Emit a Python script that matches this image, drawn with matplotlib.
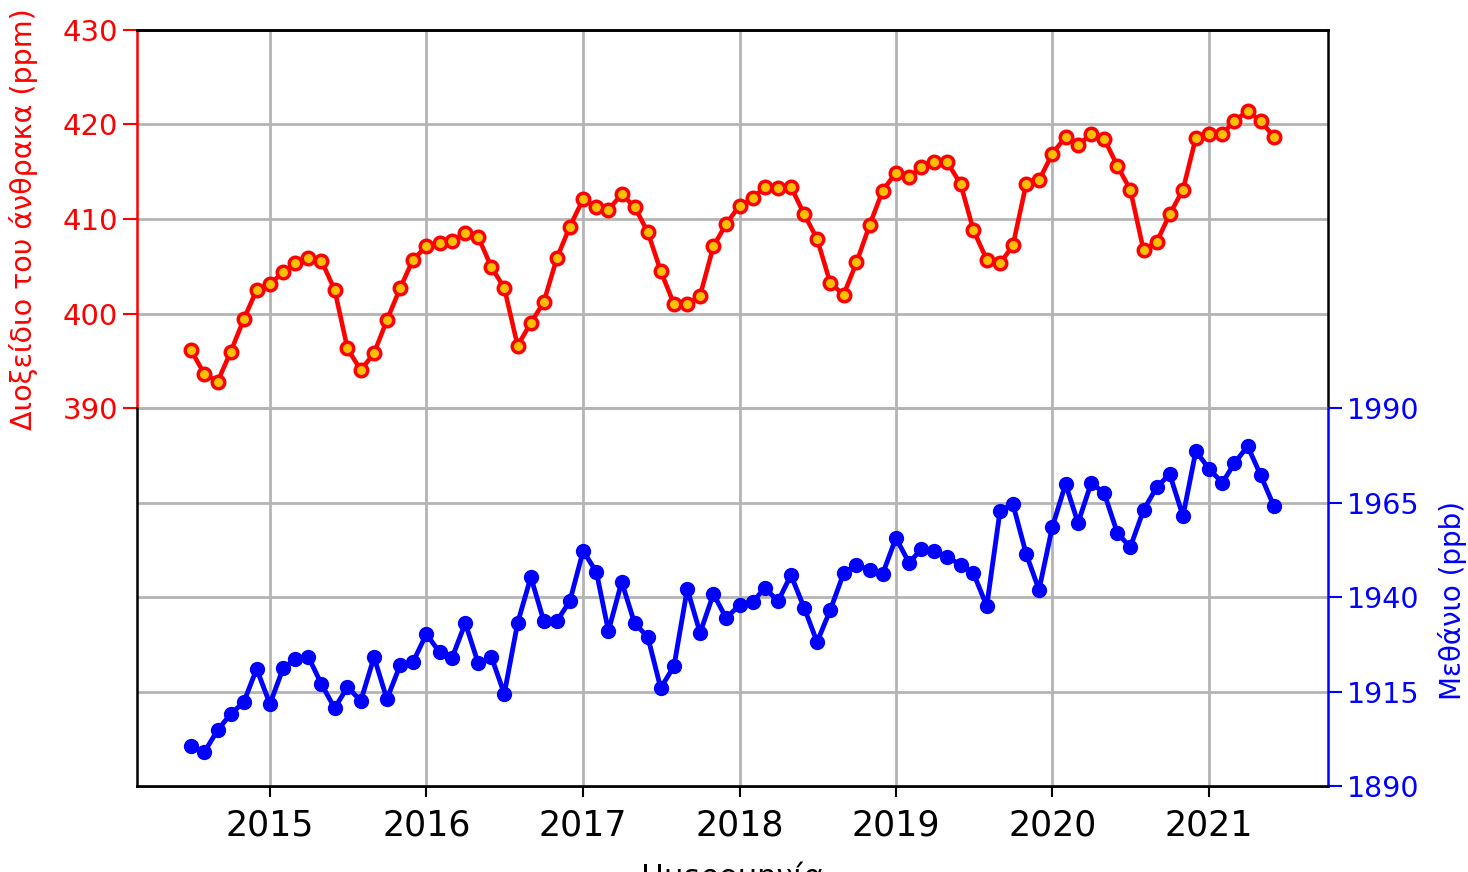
import numpy as np
import pandas as pd
import matplotlib
matplotlib.use("Agg")
import matplotlib.pyplot as plt

# monthly values, July 2014 - June 2021
dates = pd.date_range("2014-07-01", periods=84, freq="MS")

co2 = [396.1, 393.6, 392.8, 395.9, 399.4, 402.5, 403.1, 404.4, 405.3, 405.9, 405.6, 402.5,
       396.3, 394.0, 395.8, 399.3, 402.7, 405.7, 407.1, 407.5, 407.7, 408.5, 408.1, 404.9,
       402.7, 396.6, 399.0, 401.2, 405.9, 409.2, 412.1, 411.3, 411.0, 412.6, 411.3, 408.6,
       404.5, 401.0, 401.0, 401.9, 407.1, 409.5, 411.4, 412.2, 413.4, 413.3, 413.4, 410.5,
       407.9, 403.2, 402.0, 405.4, 409.4, 413.0, 414.9, 414.4, 415.5, 416.0, 416.0, 413.7,
       408.8, 405.7, 405.3, 407.2, 413.7, 414.1, 416.9, 418.7, 417.8, 419.0, 418.5, 415.6,
       413.1, 406.7, 407.6, 410.5, 413.1, 418.6, 419.0, 419.0, 420.4, 421.4, 420.4, 418.7]

ch4 = [1900.6, 1899.0, 1904.8, 1909.0, 1912.2, 1921.0, 1911.7, 1921.2, 1923.6, 1924.1, 1917.0, 1910.6,
       1916.2, 1912.5, 1924.1, 1913.0, 1922.0, 1922.8, 1930.2, 1925.4, 1923.9, 1933.1, 1922.5, 1924.1,
       1914.4, 1933.1, 1945.3, 1933.7, 1933.7, 1938.9, 1952.2, 1946.6, 1931.0, 1944.0, 1933.1, 1929.4,
       1915.9, 1921.7, 1942.1, 1930.5, 1940.8, 1934.4, 1937.9, 1938.7, 1942.4, 1938.9, 1945.8, 1937.1,
       1928.1, 1936.6, 1946.3, 1948.5, 1947.1, 1946.1, 1955.6, 1949.0, 1952.7, 1952.2, 1950.6, 1948.5,
       1946.3, 1937.6, 1962.8, 1964.6, 1951.4, 1941.9, 1958.5, 1969.9, 1959.6, 1970.2, 1967.5, 1956.9,
       1953.2, 1963.0, 1969.1, 1972.5, 1961.4, 1978.6, 1973.9, 1970.2, 1975.4, 1979.9, 1972.3, 1964.1]

co2_ticks = [390, 400, 410, 420, 430]
ch4_ticks = [1890, 1915, 1940, 1965, 1990]

fig = plt.figure(figsize=(14.68, 8.72), dpi=100)
ax = fig.add_axes([0.0933, 0.0986, 0.8113, 0.867])
ax2 = ax.twinx()

ax.plot(dates, co2, color="red", linewidth=3.3, marker="o", markersize=9,
        markerfacecolor="#ffc000", markeredgecolor="red", markeredgewidth=2.5)
ax2.plot(dates, ch4, color="blue", linewidth=3.5, marker="o", markersize=10)

ax.set_ylim(350, 430)
ax2.set_ylim(1890, 2090)
ax.set_yticks(co2_ticks)
ax2.set_yticks(ch4_ticks)

ax.grid(True, color="#b4b4b4", linewidth=2)
ax2.grid(True, axis="y", color="#b4b4b4", linewidth=2)
ax.set_axisbelow(True)

ax.xaxis.set_major_locator(matplotlib.dates.YearLocator())
ax.xaxis.set_major_formatter(matplotlib.dates.DateFormatter("%Y"))
ax.tick_params(axis="x", labelsize=25, length=8, width=1.5, pad=8)
ax.tick_params(axis="y", colors="red", labelsize=21, length=10, width=1.5)
ax2.tick_params(axis="y", colors="blue", labelsize=20.5, length=10, width=1.5)

for a in (ax, ax2):
    for s in a.spines.values():
        s.set_linewidth(1.8)
ax.spines["left"].set_color("red")
ax.spines["left"].set_bounds(390, 430)
ax.spines["right"].set_bounds(390, 430)
ax2.spines["left"].set_bounds(1890, 1990)
ax2.spines["right"].set_color("blue")
ax2.spines["right"].set_bounds(1890, 1990)

ax.set_ylabel("Διοξείδιο του άνθρακα (ppm)", color="red", fontsize=20.5)
ax.yaxis.set_label_coords(-0.083, 0.75)
ax2.set_ylabel("Μεθάνιο (ppb)", color="blue", fontsize=20)
ax2.yaxis.set_label_coords(1.092, 0.245)
ax.set_xlabel("Ημερομηνία", fontsize=22, labelpad=14)

fig.savefig("out.png", dpi=100)
